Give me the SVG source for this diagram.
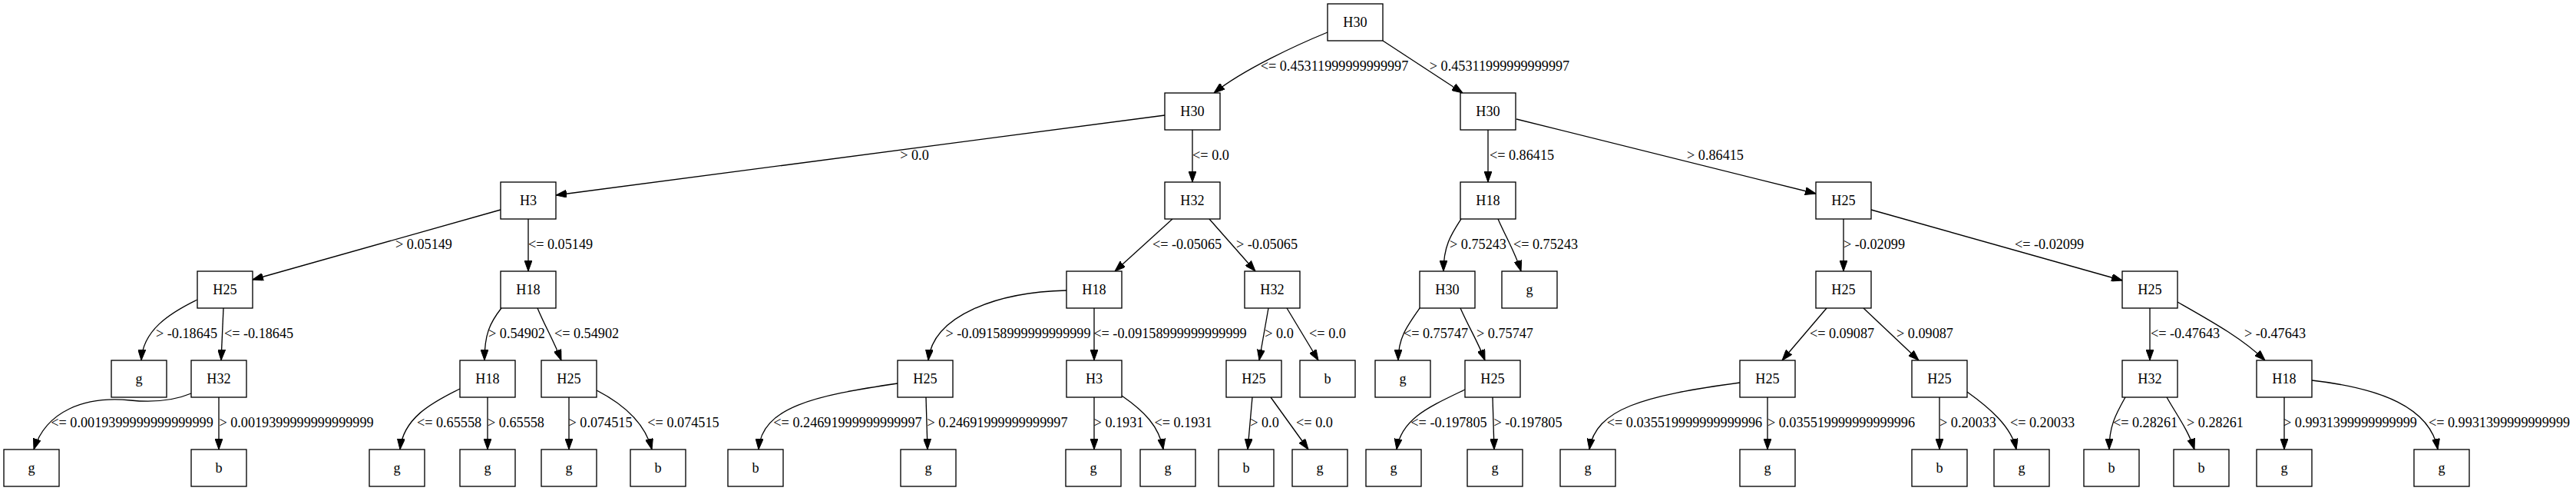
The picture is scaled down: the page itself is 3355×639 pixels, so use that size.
<svg xmlns="http://www.w3.org/2000/svg" width="3355" height="639" viewBox="0 0 3355 639">
<style>
.n rect{fill:#fff;stroke:#000;stroke-width:1.33}
text{font-family:"Liberation Serif","Times New Roman",serif;font-size:18.2px;text-anchor:middle;fill:#000}
.e path{fill:none;stroke:#000;stroke-width:1.33;marker-end:url(#a)}
</style>
<defs>
<marker id="a" markerUnits="userSpaceOnUse" viewBox="0 0 14 10" markerWidth="14" markerHeight="10" refX="14" refY="5" orient="auto">
<path d="M0,0 L14,5 L0,10 z" fill="#000" stroke="#000" stroke-width="1"/>
</marker>
</defs>
<rect width="3355" height="639" fill="#fff"/>
<g id="connectors" class="e">
<path d="M1729,42 C1690,58 1620,90 1581,121"/>
<path d="M1801,53 L1905,121"/>
<path d="M1517,150 L724,254"/>
<path d="M1553,169 L1553,237"/>
<path d="M652,273 L329,364"/>
<path d="M688,285 L688,353"/>
<path d="M257,390 C220,408 186,430 184,469"/>
<path d="M291,401 L288,469"/>
<path d="M249,512 C225,522 200,524 170,521 C110,515 60,535 44,585"/>
<path d="M285,517 L285,585"/>
<path d="M653,401 C638,420 631,435 631,469"/>
<path d="M700,401 C710,425 722,445 731,469"/>
<path d="M599,506 C560,525 525,545 521,585"/>
<path d="M635,517 L635,585"/>
<path d="M741,517 L741,585"/>
<path d="M777,508 C810,525 840,550 849,585"/>
<path d="M1527,285 L1452,353"/>
<path d="M1575,285 L1635,353"/>
<path d="M1389,378 C1300,380 1215,410 1209,469"/>
<path d="M1425,401 L1425,469"/>
<path d="M1169,499 C1060,515 992,530 988,585"/>
<path d="M1206,517 L1208,585"/>
<path d="M1425,517 L1425,585"/>
<path d="M1461,515 C1490,535 1510,555 1515,585"/>
<path d="M1652,401 L1640,469"/>
<path d="M1676,401 L1717,469"/>
<path d="M1631,517 L1625,585"/>
<path d="M1655,517 L1704,585"/>
<path d="M1938,169 L1938,237"/>
<path d="M1975,155 L2365,252"/>
<path d="M1903,285 C1890,305 1880,320 1880,353"/>
<path d="M1951,285 C1962,310 1974,330 1981,353"/>
<path d="M2401,285 L2401,353"/>
<path d="M2437,273 L2764,365"/>
<path d="M1849,401 C1832,425 1821,440 1821,469"/>
<path d="M1902,401 C1915,430 1925,445 1934,469"/>
<path d="M2379,401 L2321,469"/>
<path d="M2427,401 L2499,469"/>
<path d="M1908,507 C1860,530 1825,545 1819,585"/>
<path d="M1944,517 L1946,585"/>
<path d="M2266,498 C2140,515 2078,532 2070,585"/>
<path d="M2302,517 L2302,585"/>
<path d="M2526,517 L2526,585"/>
<path d="M2562,510 C2590,530 2620,555 2626,585"/>
<path d="M2800,401 L2800,469"/>
<path d="M2836,393 C2880,418 2920,440 2950,469"/>
<path d="M2768,517 C2755,540 2747,555 2747,585"/>
<path d="M2822,517 C2835,540 2850,560 2858,585"/>
<path d="M2975,517 L2975,585"/>
<path d="M3011,495 C3100,505 3165,530 3175,585"/>
</g>
<g id="edge-labels">
<text x="1738" y="92">&lt;= 0.45311999999999997</text>
<text x="1953" y="92">&gt; 0.45311999999999997</text>
<text x="1191" y="208">&gt; 0.0</text>
<text x="1577" y="208">&lt;= 0.0</text>
<text x="1982" y="208">&lt;= 0.86415</text>
<text x="2234" y="208">&gt; 0.86415</text>
<text x="552" y="324">&gt; 0.05149</text>
<text x="730" y="324">&lt;= 0.05149</text>
<text x="1546" y="324">&lt;= -0.05065</text>
<text x="1650" y="324">&gt; -0.05065</text>
<text x="1925" y="324">&gt; 0.75243</text>
<text x="2013" y="324">&lt;= 0.75243</text>
<text x="2441" y="324">&gt; -0.02099</text>
<text x="2669" y="324">&lt;= -0.02099</text>
<text x="243" y="440">&gt; -0.18645</text>
<text x="337" y="440">&lt;= -0.18645</text>
<text x="673" y="440">&gt; 0.54902</text>
<text x="764" y="440">&lt;= 0.54902</text>
<text x="1326" y="440">&gt; -0.09158999999999999</text>
<text x="1524" y="440">&lt;= -0.09158999999999999</text>
<text x="1666" y="440">&gt; 0.0</text>
<text x="1729" y="440">&lt;= 0.0</text>
<text x="1870" y="440">&lt;= 0.75747</text>
<text x="1960" y="440">&gt; 0.75747</text>
<text x="2399" y="440">&lt;= 0.09087</text>
<text x="2507" y="440">&gt; 0.09087</text>
<text x="2846" y="440">&lt;= -0.47643</text>
<text x="2963" y="440">&gt; -0.47643</text>
<text x="172" y="556">&lt;= 0.0019399999999999999</text>
<text x="386" y="556">&gt; 0.0019399999999999999</text>
<text x="585" y="556">&lt;= 0.65558</text>
<text x="672" y="556">&gt; 0.65558</text>
<text x="782" y="556">&gt; 0.074515</text>
<text x="890" y="556">&lt;= 0.074515</text>
<text x="1104" y="556">&lt;= 0.24691999999999997</text>
<text x="1299" y="556">&gt; 0.24691999999999997</text>
<text x="1457" y="556">&gt; 0.1931</text>
<text x="1541" y="556">&lt;= 0.1931</text>
<text x="1647" y="556">&gt; 0.0</text>
<text x="1712" y="556">&lt;= 0.0</text>
<text x="1887" y="556">&lt;= -0.197805</text>
<text x="1990" y="556">&gt; -0.197805</text>
<text x="2194" y="556">&lt;= 0.035519999999999996</text>
<text x="2398" y="556">&gt; 0.035519999999999996</text>
<text x="2563" y="556">&gt; 0.20033</text>
<text x="2660" y="556">&lt;= 0.20033</text>
<text x="2794" y="556">&lt;= 0.28261</text>
<text x="2885" y="556">&gt; 0.28261</text>
<text x="3061" y="556">&gt; 0.9931399999999999</text>
<text x="3255" y="556">&lt;= 0.9931399999999999</text>
</g>
<g id="n0" class="n"><rect x="1729" y="5" width="72" height="48"/><text x="1765" y="35">H30</text></g>
<g id="n1" class="n"><rect x="1517" y="121" width="72" height="48"/><text x="1553" y="151">H30</text></g>
<g id="n2" class="n"><rect x="1902" y="121" width="72" height="48"/><text x="1938" y="151">H30</text></g>
<g id="n3" class="n"><rect x="652" y="237" width="72" height="48"/><text x="688" y="267">H3</text></g>
<g id="n4" class="n"><rect x="1517" y="237" width="72" height="48"/><text x="1553" y="267">H32</text></g>
<g id="n5" class="n"><rect x="1902" y="237" width="72" height="48"/><text x="1938" y="267">H18</text></g>
<g id="n6" class="n"><rect x="2365" y="237" width="72" height="48"/><text x="2401" y="267">H25</text></g>
<g id="n7" class="n"><rect x="257" y="353" width="72" height="48"/><text x="293" y="383">H25</text></g>
<g id="n8" class="n"><rect x="652" y="353" width="72" height="48"/><text x="688" y="383">H18</text></g>
<g id="n9" class="n"><rect x="1389" y="353" width="72" height="48"/><text x="1425" y="383">H18</text></g>
<g id="n10" class="n"><rect x="1621" y="353" width="72" height="48"/><text x="1657" y="383">H32</text></g>
<g id="n11" class="n"><rect x="1849" y="353" width="72" height="48"/><text x="1885" y="383">H30</text></g>
<g id="n12" class="n"><rect x="1956" y="353" width="72" height="48"/><text x="1992" y="383">g</text></g>
<g id="n13" class="n"><rect x="2365" y="353" width="72" height="48"/><text x="2401" y="383">H25</text></g>
<g id="n14" class="n"><rect x="2764" y="353" width="72" height="48"/><text x="2800" y="383">H25</text></g>
<g id="n15" class="n"><rect x="145" y="469" width="72" height="48"/><text x="181" y="499">g</text></g>
<g id="n16" class="n"><rect x="249" y="469" width="72" height="48"/><text x="285" y="499">H32</text></g>
<g id="n17" class="n"><rect x="599" y="469" width="72" height="48"/><text x="635" y="499">H18</text></g>
<g id="n18" class="n"><rect x="705" y="469" width="72" height="48"/><text x="741" y="499">H25</text></g>
<g id="n19" class="n"><rect x="1169" y="469" width="72" height="48"/><text x="1205" y="499">H25</text></g>
<g id="n20" class="n"><rect x="1389" y="469" width="72" height="48"/><text x="1425" y="499">H3</text></g>
<g id="n21" class="n"><rect x="1597" y="469" width="72" height="48"/><text x="1633" y="499">H25</text></g>
<g id="n22" class="n"><rect x="1693" y="469" width="72" height="48"/><text x="1729" y="499">b</text></g>
<g id="n23" class="n"><rect x="1791" y="469" width="72" height="48"/><text x="1827" y="499">g</text></g>
<g id="n24" class="n"><rect x="1908" y="469" width="72" height="48"/><text x="1944" y="499">H25</text></g>
<g id="n25" class="n"><rect x="2266" y="469" width="72" height="48"/><text x="2302" y="499">H25</text></g>
<g id="n26" class="n"><rect x="2490" y="469" width="72" height="48"/><text x="2526" y="499">H25</text></g>
<g id="n27" class="n"><rect x="2764" y="469" width="72" height="48"/><text x="2800" y="499">H32</text></g>
<g id="n28" class="n"><rect x="2939" y="469" width="72" height="48"/><text x="2975" y="499">H18</text></g>
<g id="n29" class="n"><rect x="5" y="585" width="72" height="48"/><text x="41" y="615">g</text></g>
<g id="n30" class="n"><rect x="249" y="585" width="72" height="48"/><text x="285" y="615">b</text></g>
<g id="n31" class="n"><rect x="481" y="585" width="72" height="48"/><text x="517" y="615">g</text></g>
<g id="n32" class="n"><rect x="599" y="585" width="72" height="48"/><text x="635" y="615">g</text></g>
<g id="n33" class="n"><rect x="705" y="585" width="72" height="48"/><text x="741" y="615">g</text></g>
<g id="n34" class="n"><rect x="821" y="585" width="72" height="48"/><text x="857" y="615">b</text></g>
<g id="n35" class="n"><rect x="948" y="585" width="72" height="48"/><text x="984" y="615">b</text></g>
<g id="n36" class="n"><rect x="1173" y="585" width="72" height="48"/><text x="1209" y="615">g</text></g>
<g id="n37" class="n"><rect x="1388" y="585" width="72" height="48"/><text x="1424" y="615">g</text></g>
<g id="n38" class="n"><rect x="1485" y="585" width="72" height="48"/><text x="1521" y="615">g</text></g>
<g id="n39" class="n"><rect x="1587" y="585" width="72" height="48"/><text x="1623" y="615">b</text></g>
<g id="n40" class="n"><rect x="1683" y="585" width="72" height="48"/><text x="1719" y="615">g</text></g>
<g id="n41" class="n"><rect x="1779" y="585" width="72" height="48"/><text x="1815" y="615">g</text></g>
<g id="n42" class="n"><rect x="1911" y="585" width="72" height="48"/><text x="1947" y="615">g</text></g>
<g id="n43" class="n"><rect x="2032" y="585" width="72" height="48"/><text x="2068" y="615">g</text></g>
<g id="n44" class="n"><rect x="2266" y="585" width="72" height="48"/><text x="2302" y="615">g</text></g>
<g id="n45" class="n"><rect x="2490" y="585" width="72" height="48"/><text x="2526" y="615">b</text></g>
<g id="n46" class="n"><rect x="2597" y="585" width="72" height="48"/><text x="2633" y="615">g</text></g>
<g id="n47" class="n"><rect x="2714" y="585" width="72" height="48"/><text x="2750" y="615">b</text></g>
<g id="n48" class="n"><rect x="2831" y="585" width="72" height="48"/><text x="2867" y="615">b</text></g>
<g id="n49" class="n"><rect x="2939" y="585" width="72" height="48"/><text x="2975" y="615">g</text></g>
<g id="n50" class="n"><rect x="3144" y="585" width="72" height="48"/><text x="3180" y="615">g</text></g>
</svg>
